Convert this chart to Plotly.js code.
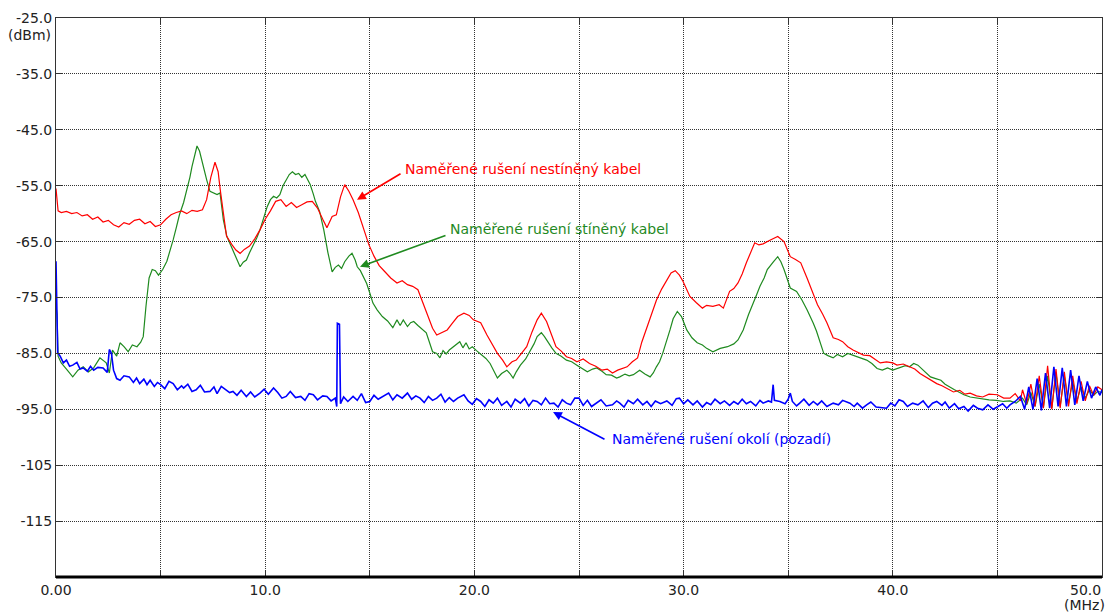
<!DOCTYPE html>
<html>
<head>
<meta charset="utf-8">
<script src="https://cdn.plot.ly/plotly-3.0.1.min.js"></script>
<style>
  html, body { margin: 0; padding: 0; background: #ffffff; }
  #chart { width: 1111px; height: 613px; }
</style>
</head>
<body>
<div id="chart"></div>
<script>
// Frequency (MHz) and level (dBm) of the unshielded-cable measurement
const redFreq = [0.0,0.1,0.25,0.5,0.75,1.0,1.25,1.5,1.75,2.0,2.25,2.5,2.75,3.0,3.25,3.5,3.75,4.0,4.25,4.5,4.75,5.0,5.25,5.5,5.75,6.0,6.25,6.5,6.75,7.0,7.2,7.4,7.6,7.75,7.85,8.0,8.15,8.4,8.6,8.8,9.0,9.25,9.5,9.75,10.0,10.25,10.5,10.75,11.0,11.25,11.5,11.75,12.0,12.25,12.5,12.75,12.95,13.2,13.4,13.6,13.8,14.0,14.2,14.45,14.7,14.95,15.2,15.45,15.7,16.0,16.3,16.55,16.8,17.05,17.3,17.55,17.8,18.0,18.2,18.45,18.7,18.95,19.2,19.5,19.75,19.95,20.3,20.6,20.85,21.1,21.35,21.55,21.8,22.0,22.25,22.5,22.75,23.0,23.2,23.45,23.7,23.9,24.15,24.4,24.65,24.9,25.2,25.5,25.8,26.1,26.35,26.6,26.85,27.1,27.3,27.55,27.8,28.0,28.25,28.5,28.7,28.95,29.2,29.4,29.6,29.8,29.97,30.15,30.3,30.6,30.9,31.1,31.4,31.7,31.9,32.2,32.4,32.6,32.8,33.0,33.2,33.4,33.6,33.8,34.1,34.3,34.5,34.8,35.1,35.35,35.6,35.9,36.15,36.4,36.65,36.85,37.15,37.4,37.6,37.85,38.1,38.35,38.6,38.9,39.15,39.4,39.7,40.0,40.2,40.5,40.8,41.05,41.3,41.55,41.8,42.1,42.35,42.6,42.9,43.2,43.45,43.7,44.0,44.3,44.6,45.0,45.3,45.6,45.85,46.1,46.2,46.4,46.6,46.8,47.0,47.2,47.4,47.6,47.8,48.0,48.2,48.4,48.6,48.8,49.0,49.2,49.4,49.6,49.8,50.0];
const redLevel = [-55.5,-59.5,-59.8,-59.6,-60.0,-59.8,-60.4,-60.2,-61.0,-60.6,-61.5,-61.2,-62.0,-62.4,-61.6,-61.9,-61.2,-61.0,-61.8,-61.4,-62.3,-62.0,-61.0,-60.2,-59.8,-59.5,-60.0,-59.4,-59.6,-59.3,-57.5,-53.5,-50.8,-52.5,-55.7,-60.0,-64.0,-65.5,-66.5,-67.1,-66.4,-65.8,-64.5,-62.9,-61.0,-59.5,-57.8,-57.5,-58.7,-58.0,-58.9,-58.4,-57.9,-57.8,-59.0,-61.0,-62.5,-60.5,-60.2,-57.0,-54.8,-56.0,-57.5,-59.8,-62.5,-65.5,-67.6,-69.3,-70.3,-71.5,-72.4,-72.0,-72.7,-73.0,-73.6,-76.0,-78.5,-80.5,-81.7,-81.2,-80.8,-79.6,-78.4,-77.8,-78.2,-79.0,-79.5,-81.7,-83.3,-85.0,-86.2,-87.4,-86.5,-86.2,-85.0,-83.8,-81.2,-79.0,-77.8,-79.3,-81.8,-83.8,-84.6,-85.6,-85.9,-86.5,-86.0,-86.8,-87.3,-88.0,-87.8,-88.5,-88.0,-87.6,-87.4,-86.5,-85.8,-83.0,-80.2,-77.6,-75.5,-73.5,-71.8,-70.6,-70.2,-71.0,-72.1,-73.6,-74.8,-75.9,-76.9,-76.4,-76.6,-76.3,-76.9,-73.9,-73.4,-72.4,-70.8,-68.8,-67.0,-65.2,-65.6,-65.4,-64.8,-64.4,-64.1,-65.0,-67.7,-68.2,-68.8,-71.5,-73.8,-76.3,-78.0,-79.5,-82.2,-82.5,-82.9,-83.8,-84.4,-84.9,-85.3,-85.4,-86.0,-86.7,-86.5,-86.7,-87.1,-86.9,-87.4,-87.8,-88.6,-89.2,-89.8,-90.4,-90.8,-91.3,-91.9,-91.6,-92.3,-92.1,-92.6,-92.8,-92.3,-92.4,-93.0,-93.0,-92.2,-93.5,-91.5,-94.0,-90.5,-94.5,-89.0,-94.8,-87.2,-95.0,-87.8,-94.8,-88.3,-94.5,-89.0,-94.0,-90.0,-93.5,-90.8,-92.5,-91.0,-91.5];

// Shielded-cable measurement
const greenFreq = [0.0,0.05,0.1,0.25,0.5,0.8,1.05,1.3,1.55,1.8,2.1,2.4,2.55,2.7,2.9,3.06,3.25,3.45,3.65,3.87,4.05,4.17,4.3,4.45,4.6,4.75,4.9,5.1,5.3,5.45,5.6,5.75,5.9,6.1,6.26,6.4,6.5,6.62,6.74,6.86,6.98,7.1,7.2,7.36,7.5,7.7,7.84,8.0,8.17,8.3,8.46,8.65,8.8,8.95,9.1,9.25,9.4,9.6,9.75,9.9,10.1,10.25,10.4,10.55,10.7,10.85,11.0,11.15,11.3,11.45,11.6,11.75,11.9,12.05,12.15,12.3,12.4,12.6,12.8,13.0,13.2,13.35,13.5,13.65,13.8,14.0,14.15,14.3,14.4,14.55,14.7,14.85,15.0,15.15,15.35,15.6,15.85,16.1,16.3,16.45,16.6,16.8,16.95,17.1,17.3,17.5,17.7,17.85,18.0,18.2,18.35,18.5,18.65,18.8,19.0,19.15,19.3,19.45,19.6,19.75,19.9,20.1,20.35,20.55,20.75,20.95,21.1,21.3,21.55,21.7,21.85,22.0,22.2,22.45,22.65,22.85,23.0,23.2,23.35,23.5,23.7,23.9,24.15,24.4,24.65,24.9,25.15,25.4,25.65,25.85,26.1,26.3,26.55,26.8,26.95,27.2,27.4,27.6,27.9,28.15,28.4,28.55,28.7,28.85,29.0,29.2,29.35,29.5,29.7,29.9,30.15,30.4,30.65,30.9,31.1,31.4,31.75,32.1,32.4,32.6,32.85,33.1,33.3,33.5,33.65,33.85,34.0,34.15,34.3,34.5,34.65,34.8,34.95,35.1,35.4,35.65,35.9,36.05,36.2,36.35,36.5,36.7,36.9,37.15,37.35,37.6,37.85,38.1,38.4,38.75,39.0,39.25,39.5,39.75,40.0,40.3,40.6,40.8,41.0,41.2,41.5,41.8,42.05,42.3,42.5,42.7,42.95,43.2,43.4,43.7,44.0,44.3,44.6,44.95,45.3,45.6,45.9,46.2,46.4,46.6,46.8,47.0,47.2,47.4,47.6,47.8,48.0,48.2,48.4,48.6,48.8,49.0,49.2,49.4,49.6,49.8,50.0];
const greenLevel = [-76.5,-78.0,-85.5,-86.7,-87.8,-89.2,-88.0,-87.4,-88.3,-87.6,-85.8,-86.7,-88.5,-84.4,-85.5,-83.1,-83.8,-84.7,-83.5,-83.8,-83.0,-82.0,-76.6,-71.5,-70.0,-70.2,-71.0,-70.0,-68.5,-66.8,-64.7,-62.5,-60.2,-58.0,-55.7,-53.5,-51.6,-49.5,-47.9,-48.8,-50.7,-52.5,-53.9,-56.0,-56.2,-56.6,-56.3,-61.1,-64.1,-65.2,-66.5,-68.0,-69.5,-68.7,-68.3,-67.0,-65.9,-64.3,-62.9,-61.0,-58.7,-57.5,-56.9,-57.2,-56.6,-55.0,-53.9,-53.0,-52.5,-53.0,-52.8,-53.5,-53.0,-54.0,-54.8,-56.5,-57.8,-59.6,-62.9,-67.0,-70.4,-69.6,-69.2,-69.8,-68.6,-67.6,-67.1,-68.3,-69.5,-70.2,-71.3,-72.5,-74.2,-76.0,-77.2,-78.4,-79.2,-80.4,-79.0,-80.0,-79.0,-80.2,-79.5,-79.3,-80.0,-80.6,-81.3,-83.0,-84.7,-85.0,-85.8,-84.5,-85.1,-84.4,-83.8,-83.5,-82.9,-84.0,-83.1,-84.2,-83.8,-84.5,-85.3,-85.9,-86.8,-88.2,-89.4,-88.6,-88.0,-88.6,-89.4,-88.3,-87.1,-86.0,-84.7,-83.3,-82.0,-81.3,-82.0,-82.9,-84.0,-85.0,-85.5,-86.2,-86.5,-87.1,-87.7,-88.3,-87.8,-87.6,-88.2,-88.8,-88.9,-89.4,-89.2,-88.7,-89.0,-88.8,-88.0,-88.7,-89.2,-88.5,-87.4,-86.5,-85.0,-82.8,-80.8,-78.8,-77.5,-78.4,-80.8,-82.2,-83.1,-83.5,-84.1,-84.7,-84.1,-83.8,-83.3,-82.6,-80.8,-78.1,-76.1,-74.4,-73.0,-71.5,-70.0,-69.2,-68.6,-67.7,-68.6,-70.0,-71.8,-73.3,-73.9,-75.4,-77.2,-78.3,-79.6,-81.0,-82.6,-85.0,-85.4,-85.8,-85.2,-85.6,-85.0,-85.3,-85.8,-86.2,-86.8,-87.7,-88.0,-87.6,-88.0,-87.6,-87.2,-87.4,-86.8,-87.1,-88.2,-89.2,-89.5,-89.8,-90.5,-91.0,-91.5,-92.0,-92.4,-92.8,-93.0,-93.2,-93.3,-93.4,-93.6,-93.5,-93.9,-93.0,-94.2,-92.0,-94.5,-90.5,-94.6,-89.0,-94.8,-88.5,-94.5,-89.0,-94.0,-90.0,-93.5,-91.0,-93.0,-91.5,-92.5,-91.8,-92.0];

// Background (ambient) measurement
const blueFreq = [0.0,0.03,0.08,0.2,0.35,0.5,0.65,0.8,1.0,1.15,1.3,1.5,1.65,1.8,2.0,2.25,2.45,2.55,2.65,2.75,2.9,3.06,3.25,3.5,3.7,3.85,4.0,4.2,4.35,4.5,4.7,4.85,5.0,5.2,5.4,5.6,5.8,6.0,6.1,6.3,6.5,6.7,6.9,7.1,7.36,7.55,7.7,7.9,8.1,8.3,8.46,8.65,8.85,9.1,9.3,9.5,9.75,9.95,10.15,10.4,10.6,10.8,11.0,11.2,11.45,11.7,11.9,12.1,12.3,12.5,12.75,12.95,13.15,13.35,13.42,13.45,13.55,13.6,13.75,13.95,14.2,14.4,14.6,14.8,15.0,15.2,15.4,15.6,15.9,16.1,16.3,16.55,16.8,17.0,17.2,17.4,17.6,17.8,18.0,18.2,18.4,18.6,18.8,19.0,19.2,19.5,19.7,19.9,20.1,20.3,20.5,20.7,20.9,21.1,21.3,21.55,21.75,21.95,22.2,22.4,22.6,22.8,23.0,23.2,23.4,23.6,23.8,24.0,24.2,24.4,24.6,24.8,25.0,25.2,25.4,25.6,25.85,26.05,26.3,26.6,26.8,26.95,27.15,27.35,27.6,27.8,28.05,28.25,28.45,28.65,28.9,29.2,29.45,29.65,29.8,30.0,30.2,30.45,30.65,30.9,31.1,31.3,31.5,31.75,31.95,32.2,32.4,32.6,32.8,33.0,33.2,33.45,33.65,33.8,34.05,34.2,34.28,34.34,34.6,34.85,35.0,35.1,35.2,35.4,35.55,35.75,36.0,36.2,36.4,36.6,36.85,37.15,37.4,37.6,37.95,38.15,38.3,38.55,38.75,38.95,39.2,39.5,39.7,39.9,40.1,40.3,40.5,40.7,40.95,41.2,41.45,41.7,41.9,42.1,42.35,42.5,42.7,42.95,43.15,43.4,43.6,43.85,44.05,44.3,44.55,44.8,45.0,45.25,45.45,45.6,45.85,46.1,46.3,46.5,46.7,46.9,47.1,47.3,47.5,47.7,47.9,48.1,48.3,48.5,48.7,48.9,49.1,49.3,49.5,49.7,49.9,50.0];
const blueLevel = [-68.5,-76.0,-84.9,-85.5,-86.7,-86.2,-87.3,-87.1,-86.6,-87.8,-87.6,-88.2,-87.3,-88.0,-87.5,-87.6,-88.4,-84.3,-85.0,-88.0,-89.5,-89.8,-89.0,-89.2,-90.2,-89.4,-90.4,-89.6,-90.6,-89.8,-90.9,-90.2,-90.6,-91.3,-90.0,-90.4,-91.5,-90.8,-91.2,-90.5,-91.8,-91.5,-90.7,-91.9,-91.8,-91.0,-92.2,-90.9,-91.4,-92.0,-91.8,-92.5,-91.6,-92.7,-91.9,-92.8,-92.1,-91.4,-92.3,-91.2,-92.0,-93.0,-92.7,-91.8,-92.9,-92.7,-93.4,-92.2,-92.4,-93.3,-92.6,-92.7,-93.5,-93.0,-94.5,-79.6,-79.8,-94.0,-92.8,-93.6,-92.7,-93.4,-92.2,-93.8,-93.6,-92.5,-93.2,-92.8,-92.1,-93.3,-92.4,-93.0,-92.1,-93.2,-92.6,-93.0,-93.8,-92.7,-93.4,-93.0,-92.3,-93.7,-92.9,-93.6,-93.0,-92.4,-93.5,-94.1,-93.1,-93.6,-94.5,-93.3,-93.9,-93.0,-94.3,-93.6,-94.6,-93.2,-93.9,-93.1,-94.4,-93.4,-93.6,-94.2,-93.0,-94.0,-93.9,-94.6,-93.3,-93.9,-94.2,-93.0,-93.0,-94.3,-93.4,-94.5,-93.9,-93.3,-94.4,-94.2,-93.5,-93.9,-94.6,-93.4,-94.0,-93.2,-94.2,-93.6,-94.5,-93.5,-94.0,-93.5,-94.3,-93.1,-93.0,-94.0,-93.3,-94.2,-93.5,-94.6,-93.8,-94.2,-93.2,-94.0,-93.5,-94.3,-93.6,-94.1,-93.2,-94.0,-93.6,-94.4,-93.4,-93.9,-93.5,-93.7,-90.6,-93.4,-93.6,-94.0,-93.2,-92.1,-93.6,-94.4,-93.9,-93.2,-94.3,-93.6,-94.2,-93.5,-94.5,-93.9,-94.2,-93.4,-93.9,-94.5,-93.9,-94.8,-94.2,-93.7,-94.6,-94.8,-94.8,-93.9,-94.4,-93.3,-93.6,-94.5,-93.9,-94.2,-93.5,-94.7,-93.9,-93.6,-94.3,-93.7,-94.8,-94.0,-94.9,-94.5,-95.3,-94.3,-94.8,-95.1,-94.2,-95.0,-94.5,-94.0,-94.8,-94.2,-93.6,-92.7,-95.0,-91.0,-95.0,-89.5,-95.2,-88.5,-94.8,-87.4,-94.5,-87.6,-94.5,-88.0,-94.2,-89.0,-93.5,-90.0,-93.0,-91.0,-92.5,-91.5];

// Axis labels
const xTickVals = [0,5,10,15,20,25,30,35,40,45,50];
const xTickText = ['0.00','','10.0','','20.0','','30.0','','40.0','',''];
const yTickVals = [-125,-115,-105,-95,-85,-75,-65,-55,-45,-35,-25];
const yTickText = ['','-115','-105','-95.0','-85.0','-75.0','-65.0','-55.0','-45.0','-35.0','-25.0'];

const seriesNames = ['Naměřené rušení nestíněný kabel','Naměřené rušení stíněný kabel','Naměřené rušení okolí (pozadí)'];

const FONT = 'DejaVu Sans, Verdana, sans-serif';
const RED = '#ff0000', GREEN = '#1f8a1f', BLUE = '#0000ff';
const AXIS_TEXT = '#222';

const traces = [
  {x: greenFreq, y: greenLevel, type: 'scatter', mode: 'lines', name: seriesNames[1],
   line: {color: GREEN, width: 1.2}},
  {x: redFreq, y: redLevel, type: 'scatter', mode: 'lines', name: seriesNames[0],
   line: {color: RED, width: 1.2}},
  {x: blueFreq, y: blueLevel, type: 'scatter', mode: 'lines', name: seriesNames[2],
   line: {color: BLUE, width: 1.6}}
];

function arrow(tipX, tipY, tailX, tailY, color) {
  return {x: tipX, y: tipY, ax: tailX, ay: tailY, xref: 'x', yref: 'y', axref: 'x', ayref: 'y',
          text: '', showarrow: true, arrowhead: 2, arrowsize: 1.1, arrowwidth: 1.6, arrowcolor: color};
}
function label(x, y, text, color) {
  return {x: x, y: y, xref: 'x', yref: 'y', text: text, showarrow: false,
          xanchor: 'left', yanchor: 'middle', font: {family: FONT, size: 14, color: color}};
}

const gridStyle = {showgrid: true, gridcolor: '#333', griddash: '1px,1px', gridwidth: 1,
  ticks: 'inside', ticklen: 6, tickcolor: '#333', tickwidth: 1,
  showline: true, linecolor: '#333', linewidth: 1, mirror: 'ticks',
  zeroline: false, tickfont: {family: FONT, size: 14, color: AXIS_TEXT}};

const layout = {
  width: 1111, height: 613,
  margin: {l: 56, r: 9, t: 18, b: 36},
  paper_bgcolor: '#ffffff', plot_bgcolor: '#ffffff',
  showlegend: false,
  font: {family: FONT, size: 14, color: AXIS_TEXT},
  xaxis: Object.assign({range: [0, 50], tickvals: xTickVals, ticktext: xTickText}, gridStyle),
  yaxis: Object.assign({range: [-125, -25], tickvals: yTickVals, ticktext: yTickText}, gridStyle),
  shapes: [
    {type: 'line', xref: 'paper', yref: 'paper', x0: 0, x1: 1, y0: 0, y1: 0,
     line: {color: '#000', width: 3}}
  ],
  annotations: [
    arrow(14.39, -57.5, 16.54, -52.7, RED),
    arrow(14.53, -69.5, 18.69, -63.8, GREEN),
    arrow(23.76, -95.5, 26.29, -100.5, BLUE),
    label(16.6, -52.0, seriesNames[0], RED),
    label(18.75, -62.7, seriesNames[1], GREEN),
    label(26.5, -100.3, seriesNames[2], BLUE),
    {xref: 'paper', yref: 'paper', x: -0.003, y: 1, xanchor: 'right', yanchor: 'top', yshift: -7,
     text: '(dBm)', showarrow: false, font: {family: FONT, size: 14, color: AXIS_TEXT}},
    {xref: 'paper', yref: 'paper', x: 1.001, y: 0, xanchor: 'right', yanchor: 'top', yshift: -3,
     text: '50.0', showarrow: false, font: {family: FONT, size: 14, color: AXIS_TEXT}},
    {xref: 'paper', yref: 'paper', x: 1.005, y: 0, xanchor: 'right', yanchor: 'top', yshift: -18,
     text: '(MHz)', showarrow: false, font: {family: FONT, size: 14, color: AXIS_TEXT}}
  ]
};

Plotly.newPlot('chart', traces, layout, {displayModeBar: false, staticPlot: true});
</script>
</body>
</html>
